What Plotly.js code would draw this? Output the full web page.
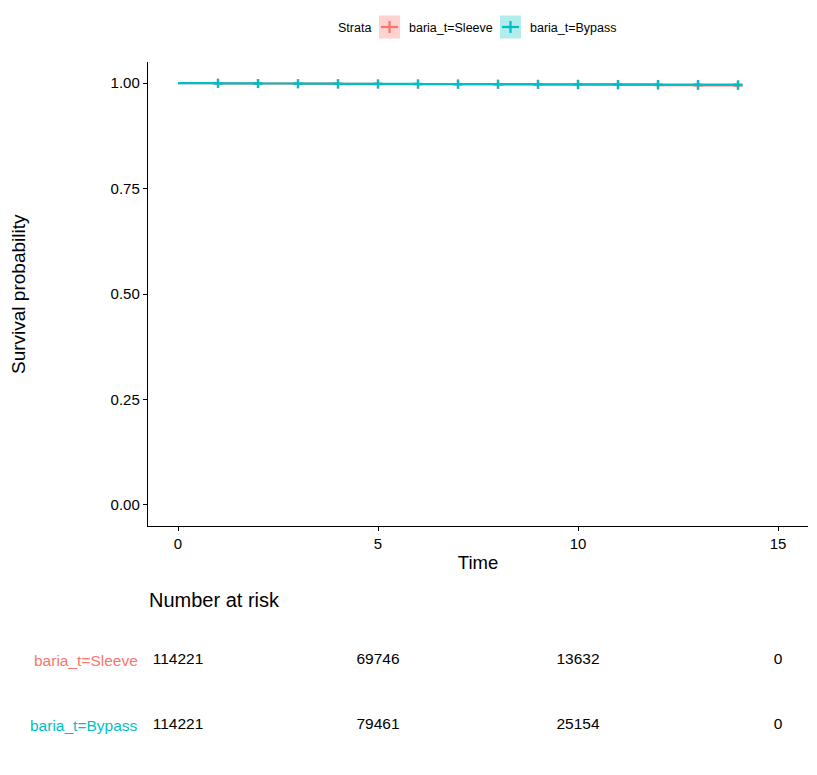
<!DOCTYPE html>
<html><head><meta charset="utf-8">
<script src="https://cdn.plot.ly/plotly-3.0.1.min.js"></script>
<style>body{margin:0;background:#fff}#chart{width:817px;height:775px}</style>
</head><body><div id="chart"></div>
<script>
const strata = ["baria_t=Sleeve", "baria_t=Bypass"];
const colors = ["#F8766D", "#00BFC4"];
const fills = ["rgba(248,118,109,0.33)", "rgba(0,191,196,0.30)"];
const times = [0,1,2,3,4,5,6,7,8,9,10,11,12,13,14];
const survSleeve = [1,0.9995,0.999,0.9986,0.9982,0.9979,0.9976,0.9973,0.997,0.9966,0.9962,0.9957,0.9952,0.9947,0.9942];
const survBypass = [1,0.9995,0.999,0.9986,0.9982,0.998,0.9978,0.9976,0.9974,0.9972,0.997,0.9968,0.9966,0.9964,0.9962];
const riskTimes = [0,5,10,15];
const riskSleeve = [114221,69746,13632,0];
const riskBypass = [114221,79461,25154,0];
const yTicks = [0,0.25,0.5,0.75,1];
const xTicks = [0,5,10,15];

const W=817,H=775;
const px=(x)=>x/W, py=(y)=>1-y/H;
const font="Liberation Sans, Arial, sans-serif";
const survs=[survSleeve,survBypass];
const risks=[riskSleeve,riskBypass];

const traces=[];
strata.forEach((s,i)=>{
  traces.push({x:times,y:survs[i],type:'scatter',mode:'lines',line:{shape:'hv',color:colors[i],width:2.2},
    name:s,xaxis:'x',yaxis:'y',hoverinfo:'skip',showlegend:false});
  traces.push({x:times.slice(1),y:survs[i].slice(1),type:'scatter',mode:'markers',
    marker:{symbol:'cross-thin',size:6.5,line:{color:colors[i],width:2.3},color:colors[i]},
    name:s,xaxis:'x',yaxis:'y',hoverinfo:'skip',showlegend:false});
});
strata.forEach((s,i)=>{
  traces.push({x:riskTimes,y:riskTimes.map(()=>s),text:risks[i].map(String),type:'scatter',mode:'text',
    textfont:{family:font,size:15.5,color:'#000'},showlegend:false,xaxis:'x2',yaxis:'y2',hoverinfo:'skip'});
});

const annotations=[
  {text:'Number at risk',xref:'paper',yref:'paper',x:px(147),y:py(600),xanchor:'left',yanchor:'middle',showarrow:false,font:{family:font,size:20,color:'#000'}},
  {text:'Survival probability',xref:'paper',yref:'paper',x:px(18),y:py(294),xanchor:'center',yanchor:'middle',textangle:-90,showarrow:false,font:{family:font,size:19,color:'#000'}},
  {text:'Strata',xref:'paper',yref:'paper',x:px(336),y:py(28),xanchor:'left',yanchor:'middle',showarrow:false,font:{family:font,size:12.5,color:'#000'}},
];
strata.forEach((s,i)=>{
  annotations.push({text:s,xref:'paper',yref:'y2',x:px(140),y:s,xanchor:'right',yanchor:'middle',showarrow:false,font:{family:font,size:15.5,color:colors[i]}});
});

// manual legend keys
const keyX=[379,500], labX=[407,528];
const shapes=[];
strata.forEach((s,i)=>{
  const x0=keyX[i], x1=x0+21, yc=27;
  shapes.push({type:'rect',xref:'paper',yref:'paper',x0:px(x0),x1:px(x1),y0:py(15.5),y1:py(38.5),fillcolor:fills[i],line:{width:0},layer:'below'});
  shapes.push({type:'line',xref:'paper',yref:'paper',x0:px(x0+2),x1:px(x1-2),y0:py(yc),y1:py(yc),line:{color:colors[i],width:2.2}});
  shapes.push({type:'line',xref:'paper',yref:'paper',x0:px((x0+x1)/2),x1:px((x0+x1)/2),y0:py(yc-6),y1:py(yc+6),line:{color:colors[i],width:2.2}});
  annotations.push({text:s,xref:'paper',yref:'paper',x:px(labX[i]),y:py(28),xanchor:'left',yanchor:'middle',showarrow:false,font:{family:font,size:12.5,color:'#000'}});
});

const layout={
  width:W,height:H,margin:{l:0,r:0,t:0,b:0},paper_bgcolor:'#fff',plot_bgcolor:'#fff',
  font:{family:font,color:'#000'},
  showlegend:false,
  xaxis:{domain:[px(148),px(808)],range:[-0.75,15.75],tickvals:xTicks,showline:true,linecolor:'#000',linewidth:1.2,
    ticks:'outside',ticklen:4,tickcolor:'#000',showgrid:false,zeroline:false,
    tickfont:{family:font,size:15,color:'#000'},title:{text:'Time',font:{family:font,size:18.5},standoff:4},anchor:'y'},
  yaxis:{domain:[py(526),py(62)],range:[-0.05,1.05],tickvals:yTicks,tickformat:'.2f',showline:true,linecolor:'#000',linewidth:1.2,
    ticks:'outside',ticklen:4,tickcolor:'#000',showgrid:false,zeroline:false,
    tickfont:{family:font,size:15,color:'#000'},anchor:'x'},
  xaxis2:{domain:[px(148),px(808)],range:[-0.75,15.75],visible:false,anchor:'y2'},
  yaxis2:{domain:[py(758),py(628)],type:'category',categoryarray:['baria_t=Bypass','baria_t=Sleeve'],range:[-0.5,1.5],visible:false,anchor:'x2'},
  annotations:annotations,
  shapes:shapes
};
Plotly.newPlot('chart',traces,layout,{staticPlot:true});
</script></body></html>
